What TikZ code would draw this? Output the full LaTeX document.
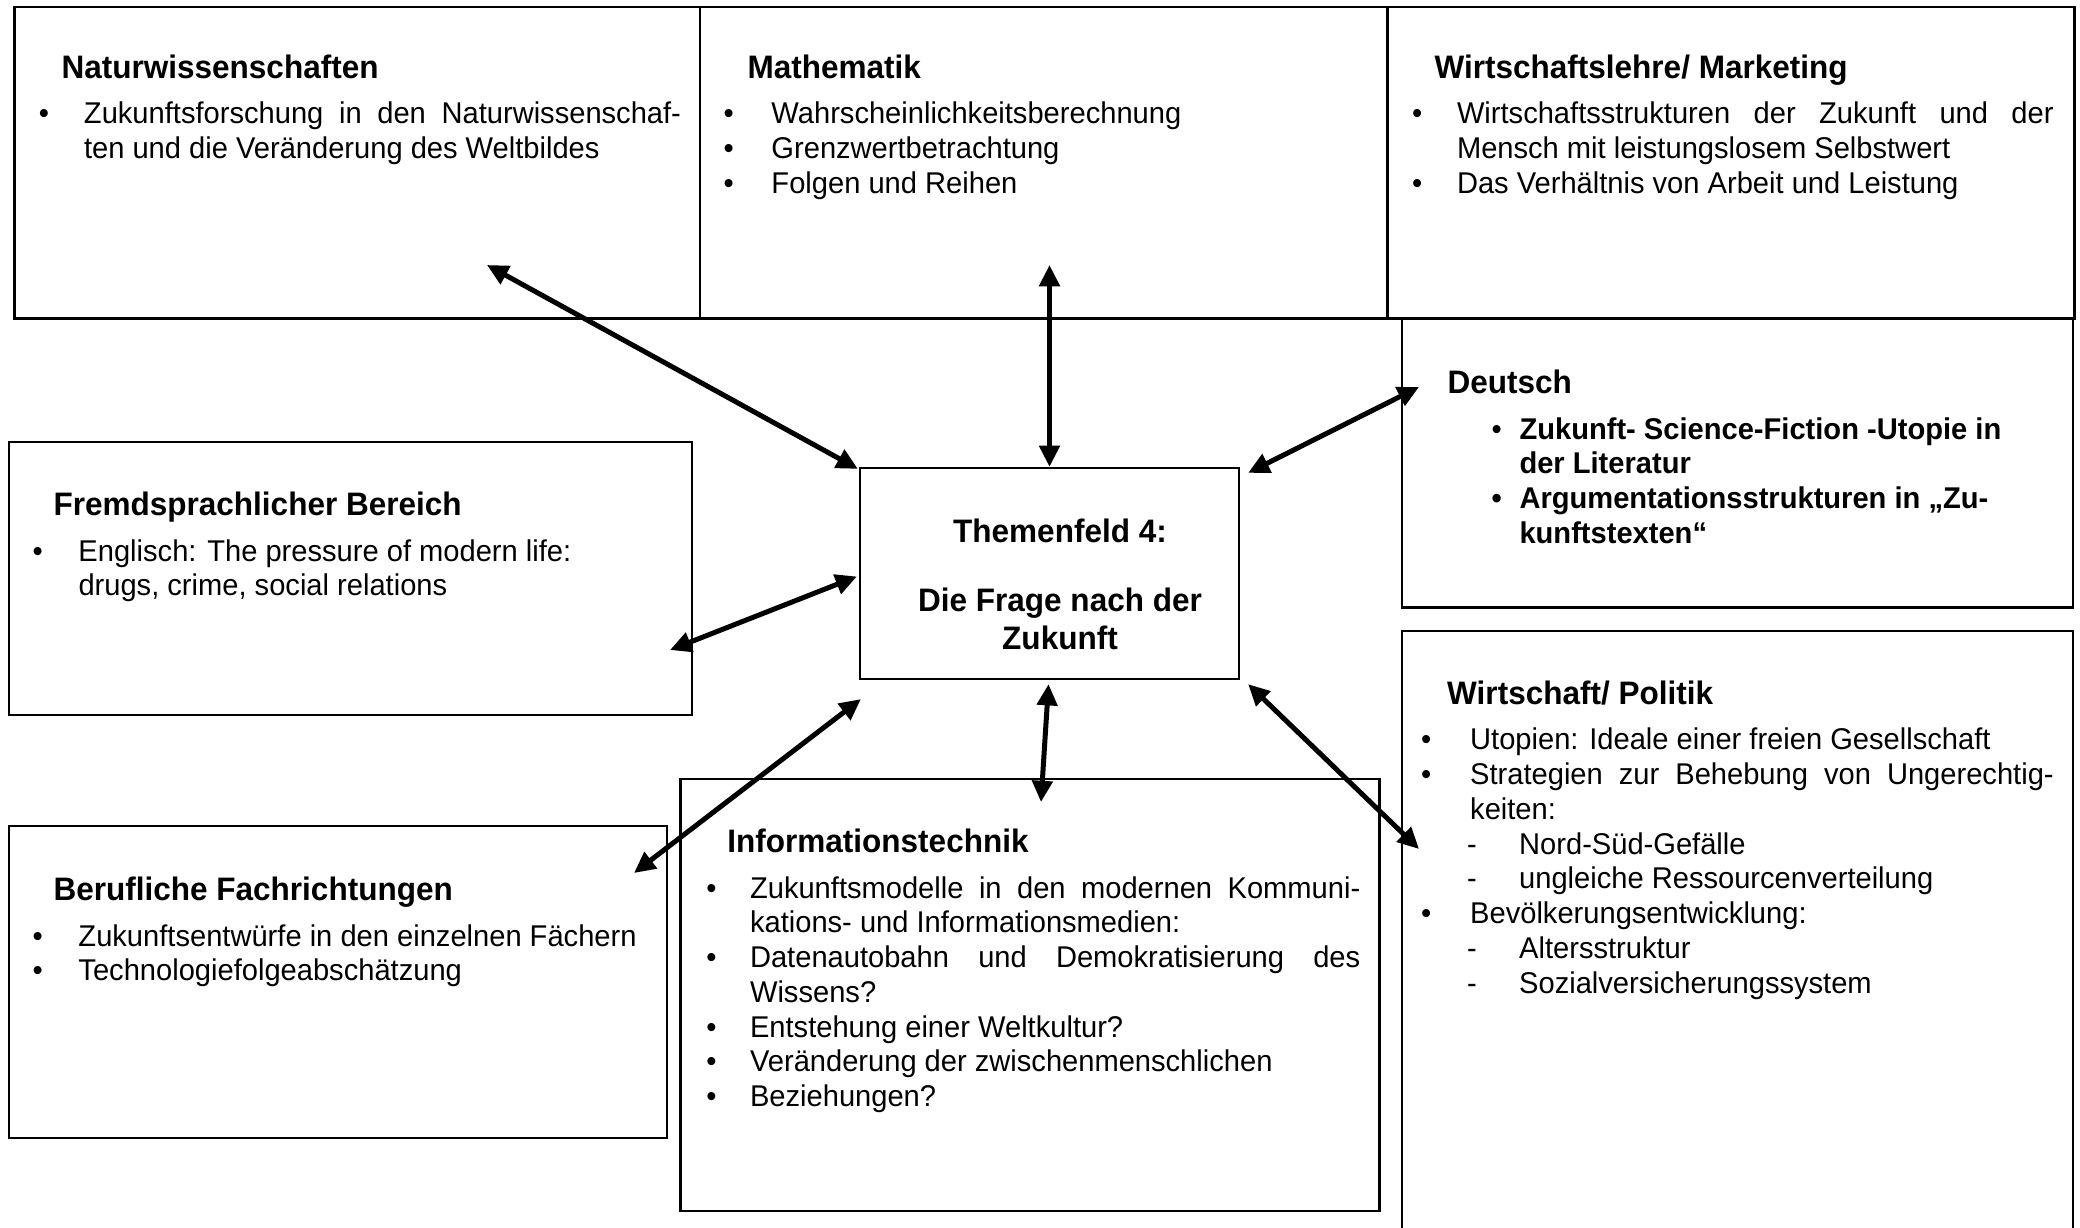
\documentclass[tikz,border=0pt]{standalone}
\usepackage{fontspec}
\setmainfont{Liberation Sans}[FakeStretch=0.97]
\usetikzlibrary{arrows.meta}
\newlength\BulInd \newlength\TxtInd \newlength\DashInd \newlength\DashTxt
\newcommand\Hd[2]{\noindent\hspace*{#1}{\fontsize{13pt}{15pt}\selectfont\bfseries #2}\par\vspace{4.3pt}}
\newcommand\Bl[1]{\noindent\makebox[\TxtInd][l]{\hspace*{\BulInd}\textbullet}#1\par}
\newcommand\Bj[1]{\noindent\makebox[\TxtInd][l]{\hspace*{\BulInd}\textbullet}\makebox[\dimexpr\linewidth-\TxtInd\relax][s]{#1}\par}
\newcommand\Cl[1]{\noindent\hspace*{\TxtInd}#1\par}
\newcommand\Dl[1]{\noindent\makebox[\DashTxt][l]{\hspace*{\DashInd}-}#1\par}
\begin{document}
\begin{tikzpicture}[x=0.4pt,y=-0.4pt,
  box/.style={draw,line width=0.9pt,inner sep=0,rectangle},
  txt/.style={inner sep=0,anchor=base west,font=\fontsize{12pt}{13.9pt}\selectfont},
  arr/.style={line width=2pt,{Triangle[length=8.5pt,width=8pt]}-{Triangle[length=8.5pt,width=8pt]}}]
\useasboundingbox (0,0) rectangle (2080,1227);
\fill[white] (0,0) rectangle (2080,1227);
\clip (0,0) rectangle (2080,1227);
% boxes
\node[box,minimum width=274.2pt,minimum height=124.7pt] (nat) at (357.3,162.5) {};
\node[box,minimum width=275pt,minimum height=124.7pt] (mat) at (1043.75,162.5) {};
\node[box,minimum width=274.8pt,minimum height=124.7pt] (wl) at (1731,162.5) {};
\node[box,minimum width=268.4pt,minimum height=115.6pt] (deu) at (1737.5,463) {};
\node[box,minimum width=268.4pt,minimum height=243.6pt] (wip) at (1737.5,935.5) {};
\node[box,minimum width=273.2pt,minimum height=109.3pt] (fre) at (350.85,578.35) {};
\node[box,minimum width=151.6pt,minimum height=84.4pt] (ctr) at (1049.5,573.5) {};
\node[box,minimum width=263.1pt,minimum height=124.8pt] (ber) at (338.15,982) {};
\node[box,minimum width=279.6pt,minimum height=172.9pt] (inf) at (1030,994.85) {};
% texts
\node[txt] (natT) at (38.5,78.2) {\parbox[t]{256.8pt}{\setlength\BulInd{0pt}\setlength\TxtInd{18pt}%
  \Hd{9pt}{Naturwissenschaften}
  \Bj{Zukunftsforschung in den Naturwissenschaf-}
  \Cl{ten und die Veränderung des Weltbildes}}};
\node[txt] (matT) at (723,78.2) {\parbox[t]{256pt}{\setlength\BulInd{0pt}\setlength\TxtInd{19.2pt}%
  \Hd{9.6pt}{Mathematik}
  \Bl{Wahrscheinlichkeitsberechnung}
  \Bl{Grenzwertbetrachtung}
  \Bl{Folgen und Reihen}}};
\node[txt] (wlT) at (1411.5,78.2) {\parbox[t]{256.6pt}{\setlength\BulInd{0pt}\setlength\TxtInd{18pt}%
  \Hd{9pt}{Wirtschaftslehre/ Marketing}
  \Bj{Wirtschaftsstrukturen der Zukunft und der}
  \Cl{Mensch mit leistungslosem Selbstwert}
  \Bl{Das Verhältnis von Arbeit und Leistung}}};
\node[txt] (deuT) at (1447,393.6) {\parbox[t]{250pt}{\setlength\BulInd{17.6pt}\setlength\TxtInd{28.8pt}%
  \Hd{0pt}{Deutsch}
  \Bl{\bfseries Zukunft- Science-Fiction -Utopie in}
  \Cl{\bfseries der Literatur}
  \Bl{\bfseries Argumentationsstrukturen in „Zu-}
  \Cl{\bfseries kunftstexten“}}};
\node[txt] (freT) at (32,515.6) {\parbox[t]{260pt}{\setlength\BulInd{0pt}\setlength\TxtInd{18.4pt}%
  \Hd{8.4pt}{Fremdsprachlicher Bereich}
  \Bl{Englisch: The pressure of modern life:}
  \Cl{drugs, crime, social relations}}};
\node[txt] (berT) at (32,900.6) {\parbox[t]{260pt}{\setlength\BulInd{0pt}\setlength\TxtInd{18.4pt}%
  \Hd{8.4pt}{Berufliche Fachrichtungen}
  \Bl{Zukunftsentwürfe in den einzelnen Fächern}
  \Bl{Technologiefolgeabschätzung}}};
\node[txt] (infT) at (705.8,852.6) {\parbox[t]{261.6pt}{\setlength\BulInd{0pt}\setlength\TxtInd{17.5pt}%
  \Hd{8.4pt}{Informationstechnik}
  \Bj{Zukunftsmodelle in den modernen Kommuni-}
  \Cl{kations- und Informationsmedien:}
  \Bj{Datenautobahn und Demokratisierung des}
  \Cl{Wissens?}
  \Bl{Entstehung einer Weltkultur?}
  \Bl{Veränderung der zwischenmenschlichen}
  \Bl{Beziehungen?}}};
\node[txt] (wipT) at (1420.7,704.3) {\parbox[t]{253pt}{\setlength\BulInd{0pt}\setlength\TxtInd{19.6pt}%
  \setlength\DashInd{18.4pt}\setlength\DashTxt{39.2pt}%
  \Hd{10.4pt}{Wirtschaft/ Politik}
  \Bl{Utopien: Ideale einer freien Gesellschaft}
  \Bj{Strategien zur Behebung von Ungerechtig-}
  \Cl{keiten:}
  \Dl{Nord-Süd-Gefälle}
  \Dl{ungleiche Ressourcenverteilung}
  \Bl{Bevölkerungsentwicklung:}
  \Dl{Altersstruktur}
  \Dl{Sozialversicherungssystem}}};
\node[inner sep=0,anchor=base] (ctrT) at (1060,542.6) {\parbox[t]{140pt}{\centering\fontsize{13pt}{15.2pt}\selectfont\bfseries
  Themenfeld 4:\\[12.4pt]
  Die Frage nach der\\
  Zukunft}};
% arrow ends
\coordinate (natA) at (487,265);
\coordinate (matA) at (1049.5,265);
\coordinate (deuA) at (1419,387);
\coordinate (freA) at (670,650);
\coordinate (berA) at (634,873);
\coordinate (infA) at (1041,802);
\coordinate (wipA) at (1419,849);
\draw[arr] (natA) -- ([shift={(-1,2)}]ctr.north west);
\draw[arr] (matA) -- (ctr.north);
\draw[arr] (deuA) -- ([shift={(8,6)}]ctr.north east);
\draw[arr] (freA) -- ([shift={(-2,3)}]ctr.west);
\draw[arr] (berA) -- ([shift={(2,19)}]ctr.south west);
\draw[arr] (infA) -- ([shift={(-1,4)}]ctr.south);
\draw[arr] (wipA) -- ([shift={(8,4)}]ctr.south east);
\end{tikzpicture}
\end{document}
